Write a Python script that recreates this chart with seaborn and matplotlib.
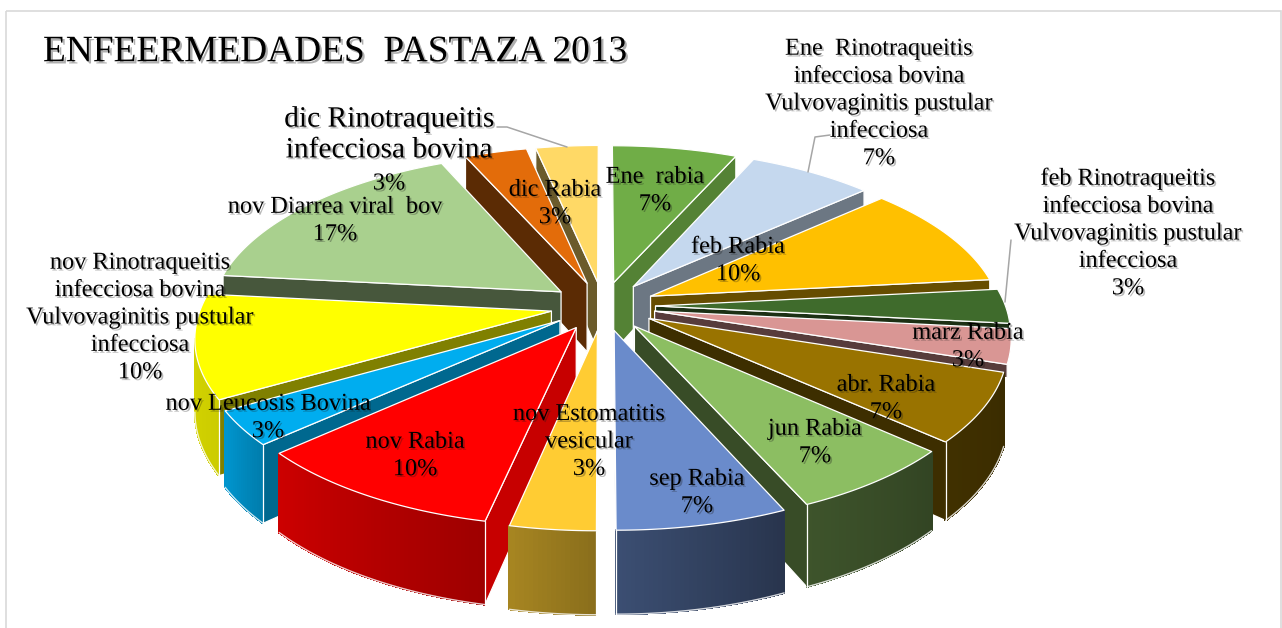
import numpy as np
import pandas as pd
import seaborn as sns
import matplotlib
matplotlib.use("Agg")
import matplotlib.pyplot as plt
import matplotlib.patheffects as pe
from matplotlib.patches import Rectangle

sns.set_theme(style="white")
plt.rcParams['font.family'] = ['Liberation Serif', 'DejaVu Serif']

TITLE = "ENFEERMEDADES  PASTAZA 2013"
categories = ["Ene  rabia",
              "Ene  Rinotraqueitis\ninfecciosa bovina\nVulvovaginitis pustular\ninfecciosa",
              "feb Rabia",
              "feb Rinotraqueitis\ninfecciosa bovina\nVulvovaginitis pustular\ninfecciosa",
              "marz Rabia", "abr. Rabia", "jun Rabia", "sep Rabia",
              "nov Estomatitis\nvesicular", "nov Rabia", "nov Leucosis Bovina",
              "nov Rinotraqueitis\ninfecciosa bovina\nVulvovaginitis pustular\ninfecciosa",
              "nov Diarrea viral  bov", "dic Rabia",
              "dic Rinotraqueitis\ninfecciosa bovina"]
counts = [2, 2, 3, 1, 1, 2, 2, 2, 1, 3, 1, 3, 5, 1, 1]

colors = ["#70AD47", "#C5D8EE", "#FFC000", "#3F6B2C", "#D99694", "#997300", "#8CBE62",
          "#6A8BCB", "#FFCC33", "#FF0000", "#00ADEF", "#FFFF00", "#A9D08E", "#E36C0A", "#FFD966"]
wall_f = [.75, .55, .4, .45, .4, .4, .4, .5, .6, .78, .6, .5, .42, .4, .42]
arc_f0 = [.6, .6, .5, .5, .55, .42, .44, .56, .65, .80, .86, .85, .5, .5, .5]
arc_f1 = [.5, .5, .4, .4, .42, .38, .36, .38, .54, .62, .72, .80, .5, .5, .5]
show_rim = [True, True, True, False, False, True, True, True, True, True, True, True, True, True, True]

label_xy = [(655, 191), (879, 104), (738, 261), (1128, 234), (968, 347), (886, 399), (815, 443),
            (697, 493), (589, 442), (415, 456), (268, 418), (140, 318), (335, 221), (555, 204), (389, 135)]
dic_pct_xy = (389, 184)
leaders = [[(497, 127), (507, 127), (567, 147)],
           [(830, 135), (815, 137), (808, 172)],
           [(1011, 240), (1005, 302)]]

# projection of the pie plane to the picture
CX, CY, W, K, P, H, EXPL = 603, 306, 350, 163, .145, 70, .15
EYE_Y = -1 / P


def project(X, Y, z=0.0):
    s = 1 / (1 + P * Y)
    return CX + W * X * s, CY - K * Y * s + H * z * s


df = pd.DataFrame({"cat": categories, "n": counts})
df["pct"] = df.n / df.n.sum() * 100
edges = np.concatenate([[0], np.cumsum(df.n) / df.n.sum() * 360])

fig = plt.figure(figsize=(12.82, 6.28), dpi=100)
ax = fig.add_axes([0, 0, 1, 1])
ax.set_xlim(0, 1282)
ax.set_ylim(628, 0)
ax.axis("off")
ax.add_patch(Rectangle((6, 10.5), 1275, 640, fill=False, ec="#D9D9D9", lw=1.2))


def shade(c, f):
    r = np.array(matplotlib.colors.to_rgb(c)) * f
    return tuple(np.clip(r, 0, 1))


def side(ax0, ay0, bx, by, px, py):
    return (bx - ax0) * (py - ay0) - (by - ay0) * (px - ax0)


slices = []
for i in range(len(df)):
    a0, a1 = np.radians(edges[i]), np.radians(edges[i + 1])
    m = (a0 + a1) / 2
    ox, oy = EXPL * np.sin(m), EXPL * np.cos(m)
    th = np.linspace(a0, a1, max(12, int(np.degrees(a1 - a0) / .6)))
    slices.append((oy + .6 * np.cos(m), i, ox, oy, m, th, ox + np.sin(th), oy + np.cos(th)))

for _, i, ox, oy, m, th, xs, ys in sorted(slices, key=lambda t: -t[0]):
    col = colors[i]
    wc = shade(col, wall_f[i])
    ix, iy = ox + .5 * np.sin(m), oy + .5 * np.cos(m)
    corners = []
    outer_z = 1 if show_rim[i] else .18
    for (xe, ye) in [(xs[0], ys[0]), (xs[-1], ys[-1])]:
        if side(ox, oy, xe, ye, ix, iy) * side(ox, oy, xe, ye, 0, EYE_Y) > 0:
            continue
        poly = [project(ox, oy), project(xe, ye), project(xe, ye, outer_z), project(ox, oy, 1)]
        ax.fill(*zip(*poly), fc=wc, ec="white", lw=.9, zorder=2)
        corners.append((xe, ye))
    vis = np.array([np.sin(a) * (0 - x) + np.cos(a) * (EYE_Y - y) > 0 for a, x, y in zip(th, xs, ys)])
    if show_rim[i]:
        # outer rim, only the part that faces the viewer; shaded left to right in the picture
        n = len(xs) - 1
        for j in range(n):
            if not vis[j]:
                continue
            f = arc_f1[i] + (arc_f0[i] - arc_f1[i]) * j / max(n - 1, 1)
            q = [project(xs[j], ys[j]), project(xs[j + 1], ys[j + 1]),
                 project(xs[j + 1], ys[j + 1], 1), project(xs[j], ys[j], 1)]
            ax.fill(*zip(*q), color=shade(col, f), lw=.8, antialiased=False, zorder=2)
        if vis.sum() > 1:
            bx, by = project(xs[vis], ys[vis], 1)
            ax.plot(bx, by, color="white", lw=1.0, alpha=.8, zorder=2)
            for (xe, ye) in corners:
                if (ye - oy) < 0.75:
                    ax.plot(*zip(project(xe, ye), project(xe, ye, 1)), color="white", lw=.9, zorder=2)
    tx, ty = project(xs, ys)
    px, py = project(ox, oy)
    ax.fill(np.r_[px, tx], np.r_[py, ty], fc=col, ec="white", lw=.9, joinstyle="round", zorder=2)

shadow = [pe.withSimplePatchShadow(offset=(1.3, -1.3), shadow_rgbFace="k", alpha=.3)]
for (cat, pct, (x, y)) in zip(df.cat, df.pct, label_xy):
    if cat.startswith("dic Rino"):
        ax.text(x, y, cat, ha="center", va="center", color="black", fontsize=21.2,
                linespacing=1.24, path_effects=shadow, zorder=5)
        ax.text(*dic_pct_xy, f"{pct:.0f}%", ha="center", va="center", color="black",
                fontsize=17.5, path_effects=shadow, zorder=5)
    else:
        ax.text(x, y, f"{cat}\n{pct:.0f}%", ha="center", va="center", color="black",
                fontsize=17.5, linespacing=1.40, path_effects=shadow, zorder=5)
for line in leaders:
    ax.plot(*zip(*line), color="#A6A6A6", lw=1.1, zorder=4)

ax.text(335.5, 52, TITLE, ha="center", va="center", fontsize=26.9, color="black",
        path_effects=[pe.withSimplePatchShadow(offset=(1.6, -1.6), shadow_rgbFace="k", alpha=.35)], zorder=5)

fig.savefig("out.png", dpi=100)
